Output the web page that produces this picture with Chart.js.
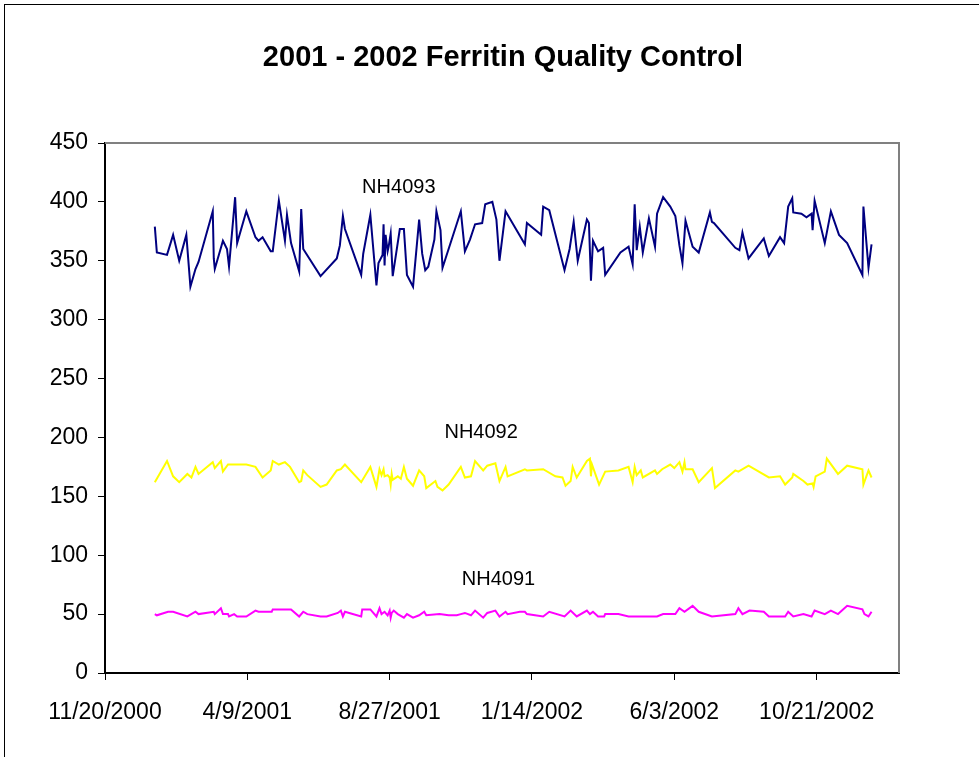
<!DOCTYPE html>
<html>
<head>
<meta charset="utf-8">
<script src="https://cdn.jsdelivr.net/npm/chart.js@4/dist/chart.umd.min.js"></script>
<style>
  html, body { margin: 0; padding: 0; background: #fff; overflow: hidden; }
  #frame {
    position: absolute; left: 4px; top: 4px;
    width: 996px; height: 753px;
    border-left: 1px solid #000; border-top: 1px solid #000;
  }
</style>
</head>
<body>
<div id="frame"><canvas id="qc" width="996" height="753"></canvas></div>
<script>
// 日付は 11/20/2000 からの経過日数
var startDate = new Date(2000, 10, 20);

// NH4093（紺）
var days4093 = [49, 51, 61, 67, 73, 80, 84, 89, 92, 106, 107, 108, 116, 120, 122, 128, 130, 139, 148, 151,
  155, 163, 165, 171, 177, 179, 183, 191, 193, 195, 212, 228, 231, 234, 236, 252, 254, 261, 267, 269,
  273, 274, 275, 276, 278, 279, 281, 283, 290, 294, 297, 303, 309, 312, 315, 318, 324, 326, 330, 332,
  350, 354, 359, 364, 371, 374, 381, 385, 388, 394, 413, 415, 429, 431, 437, 452, 457, 461, 465, 474,
  476, 478, 480, 485, 490, 492, 507, 515, 519, 521, 523, 526, 529, 535, 541, 543, 549, 556, 561, 565,
  568, 571, 578, 584, 595, 597, 599, 620, 624, 627, 633, 648, 653, 664, 668, 672, 676, 677, 685, 690,
  695, 696, 698, 708, 714, 722, 730, 745, 746, 751, 754];
var nh4093 = [379, 357, 355, 372, 350, 372, 328, 343, 349, 392, 352, 343, 367, 360, 345, 404, 365, 392, 370, 367,
  370, 358, 358, 401, 367, 389, 365, 341, 394, 360, 337, 352, 363, 388, 377, 338, 356, 389, 329, 348,
  355, 381, 346, 372, 358, 362, 373, 337, 377, 377, 338, 328, 385, 356, 342, 345, 368, 392, 376, 344,
  392, 358, 368, 381, 382, 398, 400, 385, 350, 392, 364, 382, 372, 396, 393, 342, 360, 383, 350, 385,
  382, 333, 367, 358, 361, 338, 357, 362, 347, 398, 359, 379, 357, 386, 362, 390, 404, 396, 388, 363,
  348, 384, 362, 357, 391, 383, 382, 361, 359, 374, 352, 369, 354, 370, 365, 396, 403, 391, 390, 387,
  390, 376, 401, 365, 392, 372, 365, 338, 396, 344, 364];

// NH4092（黄）
var days4092 = [49, 61, 67, 73, 81, 85, 89, 92, 106, 108, 114, 116, 121, 139, 148, 155, 163, 165, 171, 177,
  182, 191, 193, 195, 199, 212, 218, 228, 232, 236, 252, 261, 267, 270, 272, 274, 275, 278, 280, 281,
  282, 283, 288, 291, 294, 297, 303, 309, 314, 316, 325, 327, 332, 338, 350, 354, 360, 364, 372, 376,
  384, 388, 394, 396, 413, 415, 431, 443, 450, 453, 458, 460, 464, 474, 477, 478, 479, 486, 492, 505,
  515, 519, 521, 523, 527, 529, 541, 543, 548, 556, 560, 565, 568, 570, 571, 578, 584, 597, 600, 620,
  623, 633, 653, 664, 669, 676, 677, 687, 691, 696, 697, 699, 708, 710, 721, 730, 745, 746, 751, 754];
var nh4092 = [162, 180, 167, 162, 169, 166, 175, 169, 179, 174, 180, 171, 177, 177, 175, 166, 172, 180, 177, 179,
  175, 162, 163, 172, 168, 158, 160, 172, 173, 177, 162, 175, 158, 173, 168, 173, 167, 168, 166, 160,
  169, 164, 167, 165, 175, 165, 159, 172, 167, 157, 163, 158, 155, 160, 175, 166, 167, 180, 172, 176,
  178, 163, 175, 167, 173, 172, 173, 167, 166, 159, 163, 175, 166, 180, 182, 167, 177, 160, 171, 172,
  175, 162, 175, 168, 172, 166, 172, 169, 173, 177, 174, 179, 171, 179, 173, 173, 162, 174, 157, 172,
  171, 176, 166, 167, 160, 166, 169, 163, 160, 161, 158, 167, 171, 182, 169, 176, 173, 160, 172, 166];

// NH4091（マゼンタ）
var days4091 = [49, 51, 62, 67, 81, 89, 92, 107, 108, 114, 116, 121, 122, 127, 130, 139, 148, 151, 164, 165,
  183, 191, 195, 199, 212, 218, 229, 232, 234, 236, 252, 253, 261, 267, 270, 272, 275, 278, 280, 281,
  282, 284, 288, 294, 297, 303, 309, 314, 316, 329, 338, 346, 350, 354, 360, 364, 372, 376, 384, 388,
  394, 396, 408, 413, 415, 431, 437, 452, 458, 464, 474, 477, 480, 485, 491, 492, 505, 515, 543, 549,
  561, 565, 570, 578, 584, 597, 620, 623, 627, 634, 648, 653, 669, 672, 677, 687, 695, 698, 708, 714,
  721, 730, 745, 747, 751, 754];
var nh4091 = [50, 49, 52, 52, 48, 52, 50, 52, 50, 55, 50, 50, 48, 50, 48, 48, 53, 52, 52, 54,
  54, 48, 52, 50, 48, 48, 51, 53, 48, 52, 48, 54, 54, 48, 55, 50, 52, 49, 53, 47,
  51, 53, 50, 47, 50, 47, 49, 52, 49, 50, 49, 49, 50, 51, 49, 53, 47, 51, 53, 48,
  52, 50, 52, 52, 50, 48, 52, 48, 53, 48, 53, 50, 52, 48, 48, 50, 50, 48, 48, 50,
  50, 55, 52, 57, 52, 48, 50, 55, 50, 53, 52, 48, 48, 52, 48, 50, 48, 53, 50, 53,
  50, 57, 54, 50, 48, 52];

// 軸の目盛
var xMin = 0, xMax = 781, xStep = 140;
var yMin = 0, yMax = 450, yStep = 50;

// 系列名のラベル（データ座標）
var seriesNames = ['NH4093', 'NH4092', 'NH4091'];
var nameDays = [289, 370, 387];
var nameValues = [412, 204, 79];

var chartTitle = '2001 - 2002 Ferritin Quality Control';

function toPoints(days, values) {
  var pts = [];
  for (var i = 0; i < days.length; i++) {
    pts.push({x: days[i], y: values[i]});
  }
  return pts;
}

function fmtDate(d) {
  var t = new Date(startDate.getFullYear(), startDate.getMonth(), startDate.getDate() + d);
  return (t.getMonth() + 1) + '/' + t.getDate() + '/' + t.getFullYear();
}

var FONT = "'Liberation Sans', Arial, sans-serif";

// タイトル・プロットエリアの枠・系列ラベル
var extras = {
  id: 'extras',
  beforeDatasetsDraw: function(chart) {
    var a = chart.chartArea, c = chart.ctx;
    c.save();
    c.strokeStyle = '#808080';
    c.lineWidth = 2;
    c.beginPath();
    c.moveTo(a.left, a.top);
    c.lineTo(a.right, a.top);
    c.lineTo(a.right, a.bottom);
    c.stroke();
    c.restore();
  },
  afterDatasetsDraw: function(chart) {
    var c = chart.ctx, xs = chart.scales.x, ys = chart.scales.y;
    c.save();
    c.fillStyle = '#000';
    // タイトル（キャンバス全体の中央）
    c.font = 'bold 29px ' + FONT;
    c.textAlign = 'center';
    c.textBaseline = 'middle';
    c.fillText(chartTitle, chart.width / 2, 53);
    // 系列名
    c.font = '20px ' + FONT;
    for (var i = 0; i < seriesNames.length; i++) {
      c.fillText(seriesNames[i], xs.getPixelForValue(nameDays[i]), ys.getPixelForValue(nameValues[i]));
    }
    c.restore();
  }
};

var ctx = document.getElementById('qc');
var chart = new Chart(ctx, {
  type: 'line',
  data: {
    datasets: [{
      label: 'NH4093',
      data: toPoints(days4093, nh4093),
      borderColor: '#000080',
    }, {
      label: 'NH4092',
      data: toPoints(days4092, nh4092),
      borderColor: '#FFFF00',
    }, {
      label: 'NH4091',
      data: toPoints(days4091, nh4091),
      borderColor: '#FF00FF',
    }],
  },
  options: {
    responsive: false,
    animation: false,
    events: [],
    layout: {
      padding: { left: 0, right: 102, top: 138, bottom: 0 },
    },
    elements: {
      line: { borderWidth: 2, tension: 0 },
      point: { radius: 0 },
    },
    scales: {
      x: {
        type: 'linear',
        min: xMin,
        max: xMax,
        afterFit: function(s) { s.height = 85; },
        afterBuildTicks: function(s) {
          s.ticks = s.ticks.filter(function(t) { return t.value % xStep === 0; });
        },
        ticks: {
          stepSize: xStep,
          color: '#000',
          font: { family: FONT, size: 23 },
          padding: 19,
          maxRotation: 0,
          autoSkip: false,
          callback: function(v) { return fmtDate(v); },
        },
        grid: {
          drawOnChartArea: false,
          tickLength: 7,
          tickColor: '#000',
        },
        border: { color: '#000', width: 2 },
      },
      y: {
        min: yMin,
        max: yMax,
        afterFit: function(s) { s.width = 100; },
        ticks: {
          stepSize: yStep,
          color: '#000',
          font: { family: FONT, size: 23 },
          padding: 10,
        },
        grid: {
          drawOnChartArea: false,
          tickLength: 7,
          tickColor: '#000',
        },
        border: { color: '#000', width: 2 },
      },
    },
    plugins: {
      legend: { display: false },
      tooltip: { enabled: false },
      title: { display: false },
    },
  },
  plugins: [extras],
});
</script>
</body>
</html>
